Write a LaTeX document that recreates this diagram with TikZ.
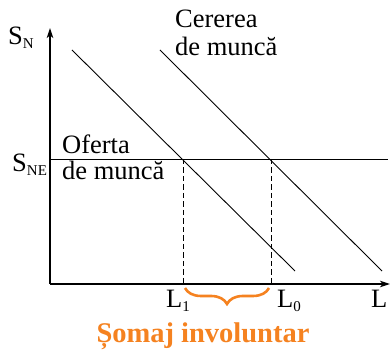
\documentclass[tikz,border=0pt]{standalone}
\usepackage{fontspec}
\setmainfont{Liberation Serif}
\usetikzlibrary{arrows.meta,decorations.pathreplacing}
\definecolor{somaj}{RGB}{245,130,32}
\newcommand{\subtxt}[1]{\raisebox{-3.5pt}{\fontsize{15}{15}\selectfont #1}}
\begin{document}
\begin{tikzpicture}[x=1pt,y=-1pt,
  lbl/.style={inner sep=0pt,anchor=base west,font=\fontsize{26.5}{30}\selectfont},
  axis/.style={line width=1.2pt,-{Stealth[length=10pt,width=6.5pt,inset=2.5pt]}},
  curve/.style={line width=0.9pt},
  guide/.style={line width=0.9pt,dash pattern=on 5.5pt off 3pt},
  bracestyle/.style={draw=somaj,line width=2.6pt,decorate,decoration={brace,mirror,amplitude=16pt,aspect=0.5}}]
\useasboundingbox (0,0) rectangle (391,352);
% axes
\coordinate (O) at (50,284);
\coordinate (Ytop) at (50,28);
\coordinate (Xend) at (390,284);
\draw[axis] (O) -- (Ytop);
\draw[axis] (O) -- (Xend);
% horizontal supply line
\coordinate (H0) at (50,159);
\coordinate (H1) at (388,159);
\draw[curve] (H0) -- (H1);
% demand lines
\coordinate (D1a) at (72,50);
\coordinate (D1b) at (295,271);
\coordinate (D0a) at (160,50);
\coordinate (D0b) at (382,271);
\draw[curve] (D1a) -- (D1b);
\draw[curve] (D0a) -- (D0b);
% dashed guides
\coordinate (E1) at (183,159);
\coordinate (E0) at (271,159);
\coordinate (B1) at (183,284);
\coordinate (B0) at (271,284);
\draw[guide] (E1) -- (B1);
\draw[guide] (E0) -- (B0);
% brace
\coordinate (Br1) at (185,288);
\coordinate (Br0) at (269,288);
\draw[bracestyle] (Br1) -- (Br0);
% labels
\node[lbl] (sn) at (8,45) {S\subtxt{N}};
\node[lbl] (sne) at (12,172) {S\subtxt{NE}};
\node[lbl] (of1) at (62,154) {Oferta};
\node[lbl] (of2) at (62,180) {de muncă};
\node[lbl] (ce1) at (175,28) {Cererea};
\node[lbl] (ce2) at (175,56) {de muncă};
\node[lbl] (l1) at (166,308) {L\subtxt{1}};
\node[lbl] (l0) at (277,308) {L\subtxt{0}};
\node[lbl] (l) at (371,308) {L};
\node[inner sep=0pt,anchor=base,text=somaj,font=\fontsize{28.5}{32}\selectfont\bfseries] (som) at (203,343) {Șomaj involuntar};
\end{tikzpicture}
\end{document}
